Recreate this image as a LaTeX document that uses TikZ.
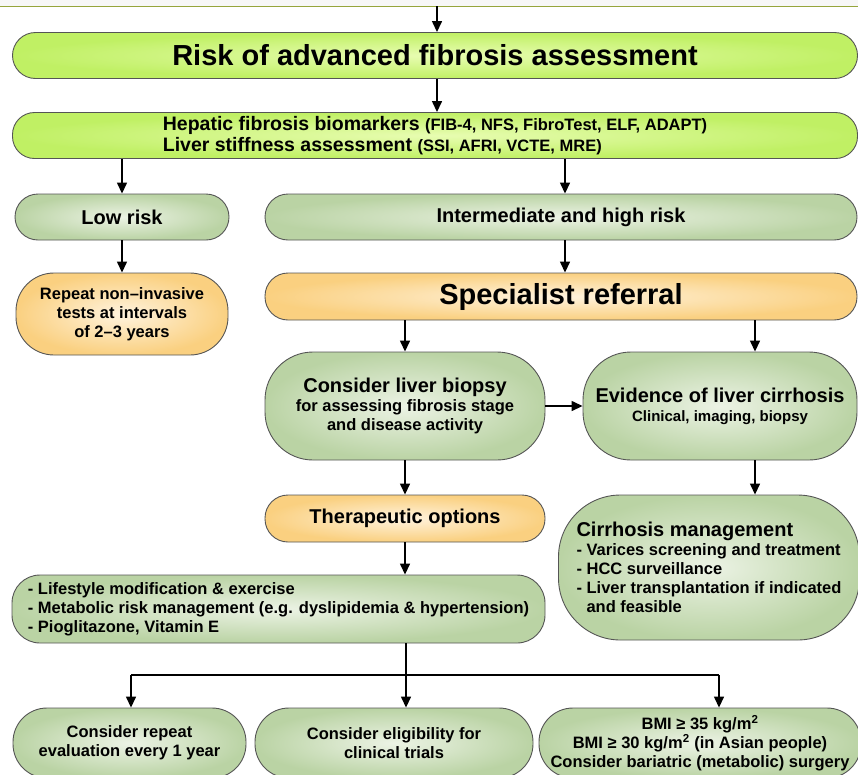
\documentclass[tikz,border=0pt]{standalone}
\usepackage{fontspec}
\setmainfont{Liberation Sans}
\usetikzlibrary{arrows.meta,calc}

\definecolor{limeout}{RGB}{192,240,100}
\definecolor{limein}{RGB}{232,253,178}
\definecolor{greenout}{RGB}{186,211,164}
\definecolor{greenin}{RGB}{236,243,229}
\definecolor{orangeout}{RGB}{250,208,128}
\definecolor{orangein}{RGB}{255,243,222}
\definecolor{boxline}{RGB}{85,85,85}
\definecolor{prevline}{RGB}{150,165,60}

\newcommand{\bigtxt}{\fontsize{29}{32}\selectfont}
\newcommand{\midtxt}{\fontsize{20}{23}\selectfont}
\newcommand{\smalltxt}{\fontsize{16.5}{19}\selectfont}

\tikzset{
  box/.style={draw=boxline, line width=0.9pt, inner sep=0pt, align=center,
    font=\bfseries\smalltxt},
  limebox/.style={box, inner color=limein, outer color=limeout},
  greenbox/.style={box, inner color=greenin, outer color=greenout},
  orangebox/.style={box, inner color=orangein, outer color=orangeout},
  arr/.style={line width=1.4pt, -{Triangle[length=11pt,width=10pt]}}
}

\begin{document}
\begin{tikzpicture}[x=1pt,y=-1pt]
\useasboundingbox (0,0) rectangle (858,774);
\clip (0,0) rectangle (858,774);

% bottom edge of the box above
\draw[prevline, line width=1pt, fill=gray!6] (-10,-40) rectangle (868,6);
\coordinate (prev) at (437,6);

\node[limebox, rounded corners=23pt, minimum width=845pt, minimum height=46pt, font=\bfseries\bigtxt] (risk) at (435,55.5) {Risk of advanced fibrosis assessment};
\node[limebox, rounded corners=22pt, minimum width=845pt, minimum height=46pt, align=left, font=\bfseries\fontsize{19.5}{20.5}\selectfont] (tests) at (435,135.5) {%
  Hepatic fibrosis biomarkers {\fontsize{16.5}{20.5}\selectfont (FIB-4, NFS, FibroTest, ELF, ADAPT)}\\
  Liver stiffness assessment {\fontsize{16.5}{20.5}\selectfont (SSI, AFRI, VCTE, MRE)}};

\node[greenbox, rounded corners=23pt, minimum width=214pt, minimum height=46pt, font=\bfseries\midtxt] (low) at (122,217) {Low risk};
\node[greenbox, rounded corners=23pt, minimum width=592pt, minimum height=46pt, font=\bfseries\midtxt] (high) at (561,217) {Intermediate and high risk};

\node[orangebox, rounded corners=38pt, minimum width=212pt, minimum height=82pt] (repeat) at (122,314) {Repeat non–invasive\\tests at intervals\\of 2–3 years};
\node[orangebox, rounded corners=23pt, minimum width=592pt, minimum height=47pt, font=\bfseries\bigtxt] (spec) at (561,296.5) {Specialist referral};

\node[greenbox, rounded corners=48pt, minimum width=280pt, minimum height=108pt] (biopsy) at (405,406) {{\midtxt Consider liver biopsy}\\for assessing fibrosis stage\\and disease activity};
\node[greenbox, rounded corners=48pt, minimum width=274pt, minimum height=108pt] (cirr) at (720,406) {{\midtxt Evidence of liver cirrhosis}\\{\fontsize{15}{19}\selectfont Clinical, imaging, biopsy}};

\node[orangebox, rounded corners=23pt, minimum width=280pt, minimum height=47pt, font=\bfseries\midtxt] (thera) at (405,518.5) {Therapeutic options};
\node[greenbox, rounded corners=62pt, minimum width=301pt, minimum height=145pt, align=left] (manage) at (709,567.5) {{\midtxt Cirrhosis management}\\- Varices screening and treatment\\- HCC surveillance\\- Liver transplantation if indicated\\\hspace*{10pt}and feasible};

\node[greenbox, rounded corners=28pt, minimum width=533pt, minimum height=68pt, align=left] (life) at (278.5,609) {- Lifestyle modification \& exercise\\- Metabolic risk management (e.g. dyslipidemia \& hypertension)\\- Pioglitazone, Vitamin E};

\node[greenbox, rounded corners=34pt, minimum width=233pt, minimum height=70pt] (yearly) at (129.5,743) {Consider repeat\\evaluation every 1 year};
\node[greenbox, rounded corners=34pt, minimum width=278pt, minimum height=70pt] (trials) at (394,743) {Consider eligibility for\\clinical trials};
\node[greenbox, rounded corners=34pt, minimum width=322pt, minimum height=70pt] (surgery) at (700,743) {BMI ≥ 35 kg/m\textsuperscript{2}\\BMI ≥ 30 kg/m\textsuperscript{2} (in Asian people)\\Consider bariatric (metabolic) surgery};

% arrow positions off the node centres
\coordinate (rightcol) at (755,0);
\coordinate (split) at (406,675);
\coordinate (leftdrop) at (131,675);
\coordinate (rightdrop) at (719,675);

\draw[arr] (prev) -- (prev |- risk.north);
\draw[arr] (prev |- risk.south) -- (prev |- tests.north);
\draw[arr] (tests.south -| low) -- (low.north);
\draw[arr] (tests.south -| 565,0) -- (high.north -| 565,0);
\draw[arr] (low.south) -- (repeat.north);
\draw[arr] (high.south -| 565,0) -- (spec.north -| 565,0);
\draw[arr] (spec.south -| biopsy) -- (biopsy.north);
\draw[arr] (spec.south -| rightcol) -- (cirr.north -| rightcol);
\draw[arr] (biopsy.east) -- (cirr.west);
\draw[arr] (biopsy.south) -- (thera.north);
\draw[arr] (cirr.south -| rightcol) -- (manage.north -| rightcol);
\draw[arr] (thera.south) -- (life.north -| thera);
\draw[line width=1.4pt] (life.south -| split) -- (split);
\draw[line width=1.4pt] (leftdrop) -- (rightdrop);
\draw[arr] (leftdrop) -- (yearly.north -| leftdrop);
\draw[arr] (split) -- (trials.north -| split);
\draw[arr] (rightdrop) -- (surgery.north -| rightdrop);
\end{tikzpicture}
\end{document}
